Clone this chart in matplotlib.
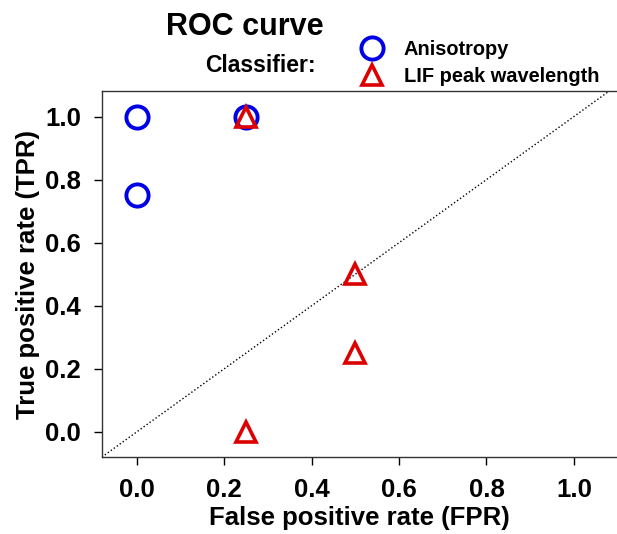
import matplotlib.pyplot as plt
from matplotlib.lines import Line2D

# ROC points
aniso_fpr = [0.0, 0.0, 0.25]
aniso_tpr = [1.0, 0.75, 1.0]
lif_fpr = [0.25, 0.5, 0.5, 0.25]
lif_tpr = [1.0, 0.5, 0.25, 0.0]
ticks = [0.0, 0.2, 0.4, 0.6, 0.8, 1.0]
tick_labels = ['0.0', '0.2', '0.4', '0.6', '0.8', '1.0']

plt.rcParams['font.family'] = ['Liberation Sans', 'DejaVu Sans']
plt.rcParams['font.weight'] = 'bold'

fig = plt.figure(figsize=(6.17, 5.34), dpi=100)
ax = fig.add_axes([0.165, 0.144, 0.836, 0.685])

ax.axline((0, 0), (1, 1), color='black', linestyle=':', linewidth=1.0)
ax.plot(aniso_fpr, aniso_tpr, linestyle='none', marker='o', markersize=16,
        markerfacecolor='none', markeredgecolor='#0000e6', markeredgewidth=2.8)
ax.plot(lif_fpr, lif_tpr, linestyle='none', marker='^', markersize=14,
        markerfacecolor='none', markeredgecolor='#dd0000', markeredgewidth=2.6)

ax.set_xlim(-0.08, 1.10)
ax.set_ylim(-0.08, 1.08)
ax.set_xticks(ticks)
ax.set_xticklabels(tick_labels)
ax.set_yticks(ticks)
ax.set_yticklabels(tick_labels)
ax.tick_params(direction='out', length=6, width=1, labelsize=18.5, pad=9)
ax.spines['right'].set_visible(False)
for s in ['left', 'top', 'bottom']:
    ax.spines[s].set_linewidth(1.0)
    ax.spines[s].set_color('#333333')

ax.set_xlabel('False positive rate (FPR)', fontsize=18.5, fontweight='bold', labelpad=3)
ax.set_ylabel('True positive rate (TPR)', fontsize=18.5, fontweight='bold', labelpad=4)

fig.text(245 / 617, 1 - 27 / 534, 'ROC curve', fontsize=22, fontweight='bold',
         ha='center', va='center')
fig.text(260 / 617, 1 - 65 / 534, 'Classifier:', fontsize=16.5, fontweight='bold',
         ha='center', va='center')

handles = [
    Line2D([], [], linestyle='none', marker='o', markersize=16, markerfacecolor='none',
           markeredgecolor='#0000e6', markeredgewidth=2.8),
    Line2D([], [], linestyle='none', marker='^', markersize=14, markerfacecolor='none',
           markeredgecolor='#dd0000', markeredgewidth=2.6),
]
fig.legend(handles, ['Anisotropy', 'LIF peak wavelength'], loc='center left',
           bbox_to_anchor=(350 / 617, 1 - 63 / 534), frameon=False,
           prop={'size': 14.4, 'weight': 'bold'}, handlelength=1.2,
           handletextpad=1.0, labelspacing=0.4, borderpad=0)

fig.savefig('out.png', dpi=100)
